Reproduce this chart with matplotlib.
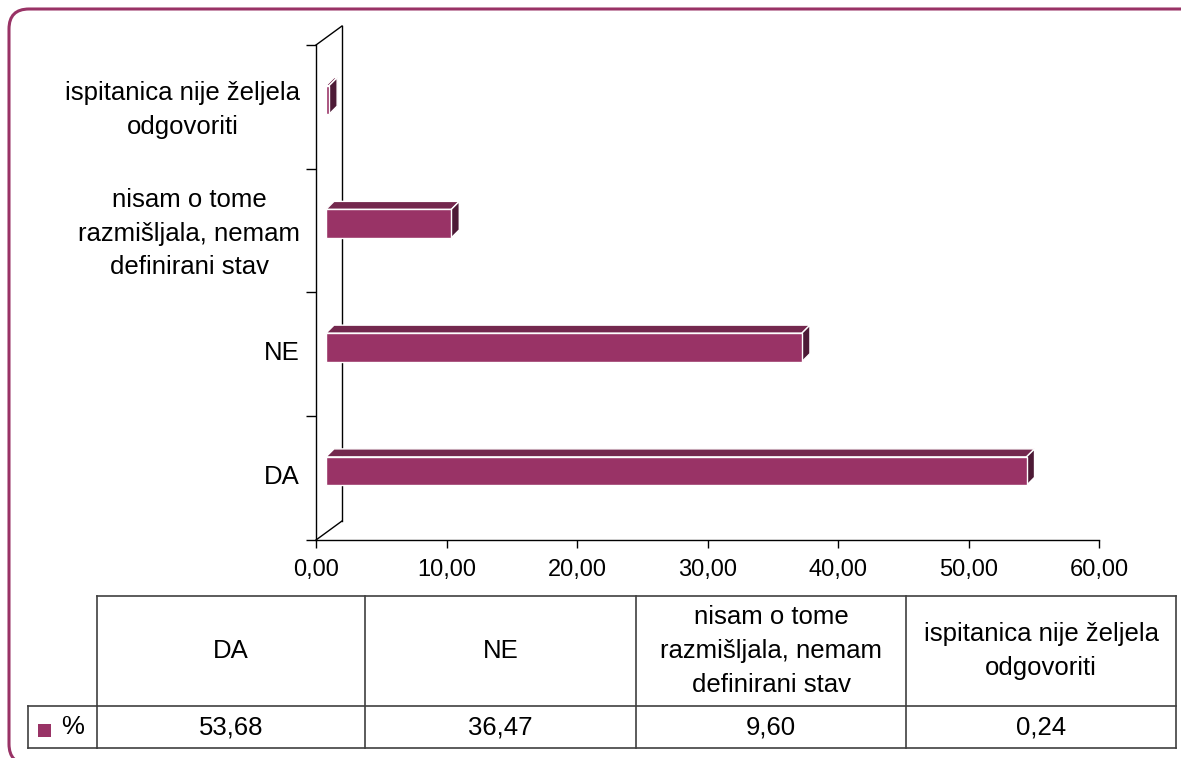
import numpy as np
import matplotlib
matplotlib.use('Agg')
import matplotlib.pyplot as plt
import matplotlib.transforms as mtransforms
from matplotlib.patches import Polygon, FancyBboxPatch, Rectangle
from matplotlib.lines import Line2D

plt.rcParams['font.family'] = ['Liberation Sans', 'DejaVu Sans']

# data (bottom to top on the chart, left to right in the table)
categories = ['DA', 'NE', 'nisam o tome\nrazmišljala, nemam\ndefinirani stav',
              'ispitanica nije željela\nodgovoriti']
values = [53.68, 36.47, 9.60, 0.24]
series_name = '%'
xticks = [0, 10, 20, 30, 40, 50, 60]

FRONT = '#993366'
TOP = '#74284e'
SIDE = '#4d1a36'
FS = 18.5      # category / table text
FS_TICK = 17    # x axis numbers
LSP = 1.5

W, H = 1181, 758
fig = plt.figure(figsize=(W / 100, H / 100), dpi=100)
fig.patch.set_facecolor('white')

# rounded outer border (runs off the right and bottom edges)
border = FancyBboxPatch((0.09, -0.06), 12.1, 7.55,
                        boxstyle='round,pad=0,rounding_size=0.2',
                        transform=fig.dpi_scale_trans, fill=False,
                        edgecolor=FRONT, lw=2.2)
fig.add_artist(border)

ax = fig.add_axes([316 / W, (H - 540) / H, (1099 - 316) / W, (540 - 45) / H])
ax.set_facecolor('none')
ax.set_xlim(0, 60)
ax.set_ylim(0, 4)
for s in ['top', 'right']:
    ax.spines[s].set_visible(False)
ax.spines['left'].set_linewidth(1)
ax.spines['bottom'].set_linewidth(1)

ax.set_xticks(xticks)
ax.set_xticklabels([f'{t:.2f}'.replace('.', ',') for t in xticks], fontsize=FS_TICK)
ax.tick_params(axis='x', length=5.8, width=1, pad=8)
ax.set_yticks(range(5))
ax.set_yticklabels([])
ax.tick_params(axis='y', which='major', length=7.2, width=1)
centers = np.arange(len(categories)) + 0.5
ax.set_yticks(centers, categories, minor=True)
ax.tick_params(axis='y', which='minor', length=0, pad=11.5, labelsize=FS)
lift = mtransforms.ScaledTranslation(0, 4 / 100, fig.dpi_scale_trans)
for lbl in ax.get_yticklabels(minor=True):
    lbl.set_multialignment('center')
    lbl.set_linespacing(LSP)
    lbl.set_transform(lbl.get_transform() + lift)

# 3d depth: back wall offset in pixels
depth = np.array([26, 19])
to_disp = ax.transData.transform
ident = mtransforms.IdentityTransform()
for yy in [0, 4]:
    p = to_disp((0, yy))
    ax.add_line(Line2D([p[0], p[0] + depth[0]], [p[1], p[1] + depth[1]],
                       transform=ident, color='black', lw=1, clip_on=False, zorder=1))
p0 = to_disp((0, 0)) + depth
p1 = to_disp((0, 4)) + depth
ax.add_line(Line2D([p0[0], p1[0]], [p0[1], p1[1]], transform=ident,
                   color='black', lw=1, clip_on=False, zorder=1))

# bars
front_off = np.array([10, 7])
side_off = np.array([8, 8])
bh = 0.23
front_tr = mtransforms.offset_copy(ax.transData, fig=fig, x=front_off[0],
                                   y=front_off[1], units='dots')
ax.barh(centers, values, height=bh, color=FRONT, edgecolor='white', lw=1,
        transform=front_tr, clip_on=False, zorder=3)
for c, v in zip(centers, values):
    tl = to_disp((0, c + bh / 2)) + front_off
    tr = to_disp((v, c + bh / 2)) + front_off
    br = to_disp((v, c - bh / 2)) + front_off
    ax.add_patch(Polygon([tl, tr, tr + side_off, tl + side_off], closed=True,
                         transform=ident, facecolor=TOP, edgecolor='white',
                         lw=1, clip_on=False, zorder=2))
    ax.add_patch(Polygon([tr, br, br + side_off, tr + side_off], closed=True,
                         transform=ident, facecolor=SIDE, edgecolor='white',
                         lw=1, clip_on=False, zorder=2))

# data table
def fx(px):
    return px / W


def fy(py):
    return 1 - py / H


col_edges = [97, 365, 636, 906, 1176]
top_y, mid_y, bot_y = 596, 706, 748
lc = '#404040'
for x in col_edges:
    fig.add_artist(Line2D([fx(x), fx(x)], [fy(top_y), fy(bot_y)], color=lc, lw=1.2))
for y in [top_y, mid_y, bot_y]:
    fig.add_artist(Line2D([fx(97), fx(1176)], [fy(y), fy(y)], color=lc, lw=1.2))
fig.add_artist(Line2D([fx(28), fx(97)], [fy(mid_y), fy(mid_y)], color=lc, lw=1.2))
fig.add_artist(Line2D([fx(28), fx(97)], [fy(bot_y), fy(bot_y)], color=lc, lw=1.2))
fig.add_artist(Line2D([fx(28), fx(28)], [fy(mid_y), fy(bot_y)], color=lc, lw=1.2))

for i, (cat, v) in enumerate(zip(categories, values)):
    cx = (col_edges[i] + col_edges[i + 1]) / 2
    fig.text(fx(cx), fy((top_y + mid_y) / 2), cat, ha='center', va='center',
             fontsize=FS, multialignment='center', linespacing=LSP)
    fig.text(fx(cx), fy((mid_y + bot_y) / 2), f'{v:.2f}'.replace('.', ','),
             ha='center', va='center', fontsize=FS)

fig.add_artist(Rectangle((fx(38), fy(737)), fx(13), 13 / H, facecolor=FRONT,
                         edgecolor='none'))
fig.text(fx(61), fy(727), series_name, ha='left', va='center', fontsize=FS)

fig.savefig('out.png', dpi=100)
